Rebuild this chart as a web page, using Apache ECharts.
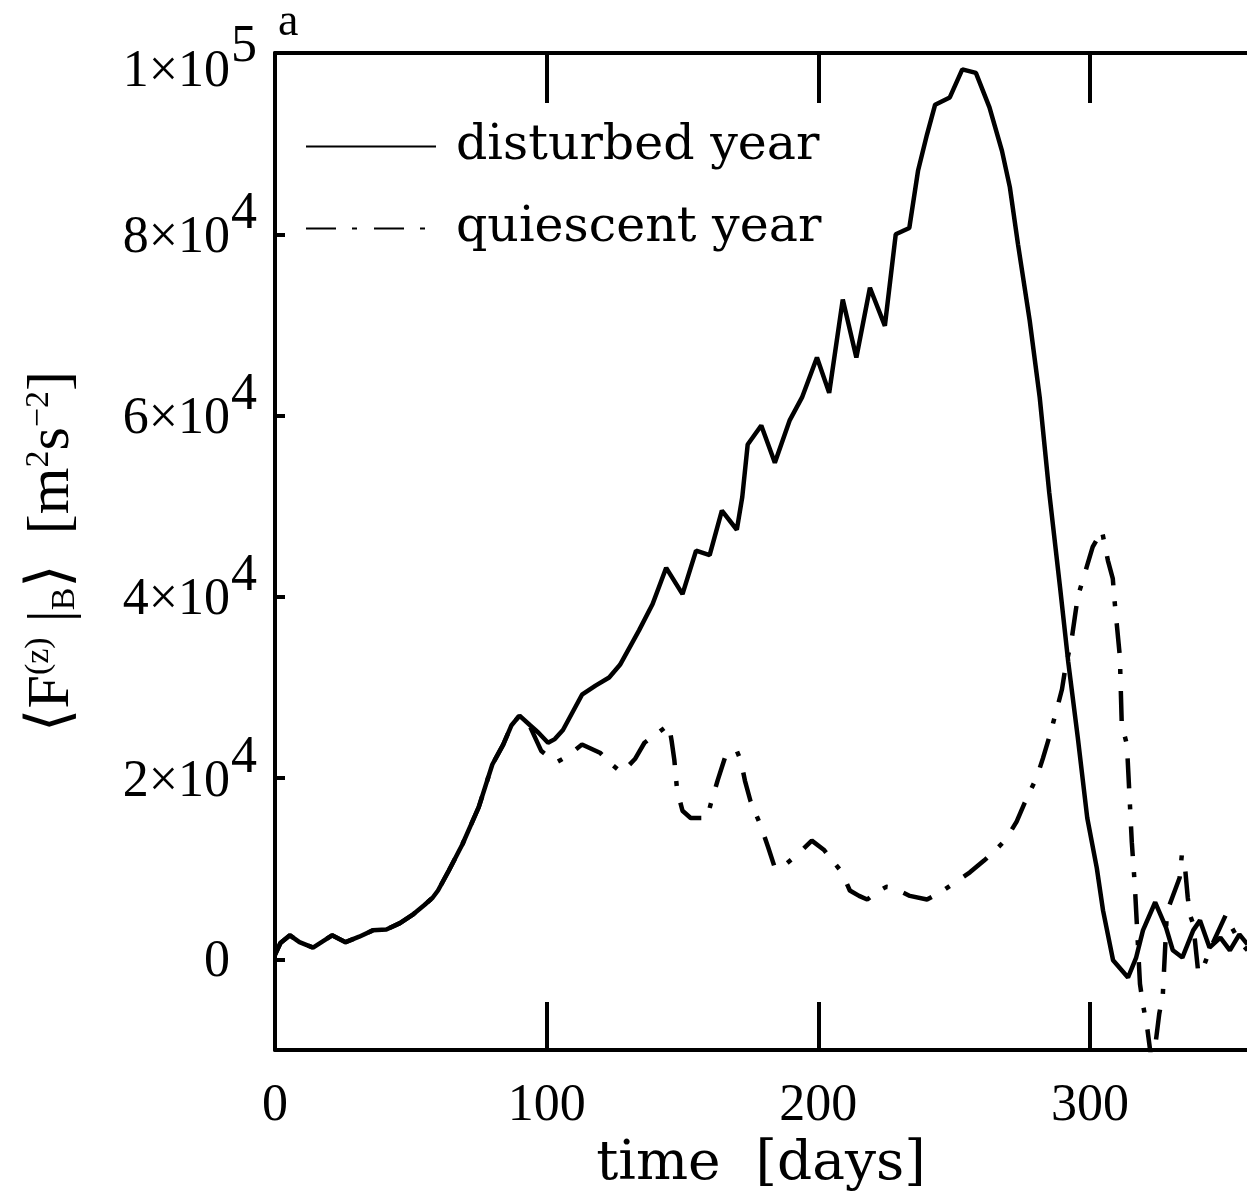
<!DOCTYPE html>
<html>
<head>
<meta charset="utf-8">
<script src="https://cdn.jsdelivr.net/npm/echarts@6/dist/echarts.min.js"></script>
<style>
html,body{margin:0;padding:0;background:#fff;}
#chart{width:1247px;height:1200px;}
</style>
</head>
<body>
<div id="chart"></div>
<script>
// ---- data ----
const disturbedDay = [0, 2, 5.5, 9, 14, 21, 26, 31, 36, 41, 46, 51, 55, 58, 60, 64, 69, 75, 80, 84, 87, 90, 94, 97, 100.5, 103, 106, 113, 118, 123, 127, 134, 139, 144, 150, 155, 160, 164.5, 170, 172, 174, 179, 184, 189.5, 194, 199.5, 204, 209, 214, 219, 224.5, 228.5, 233.5, 236.7, 240, 243, 248.4, 253, 258, 263, 267.6, 270.5, 273.5, 277.8, 281.5, 285, 289, 292, 295.5, 299, 302.5, 304.8, 308.5, 314, 317, 319.5, 324, 328, 330.5, 334, 338, 340.5, 344, 348, 351.5, 355, 358];
const disturbedValue = [500, 1800, 2650, 1900, 1300, 2650, 1900, 2500, 3200, 3300, 4000, 5000, 6000, 6800, 7600, 9800, 12700, 16800, 21500, 23700, 25800, 26900, 25800, 25000, 23900, 24300, 25300, 29200, 30200, 31100, 32500, 36300, 39200, 43200, 40300, 45100, 44600, 49500, 47400, 51000, 56800, 58900, 54800, 59500, 62000, 66400, 62500, 72800, 66400, 74100, 69900, 80000, 80700, 87000, 91000, 94300, 95100, 98200, 97800, 94000, 89200, 85200, 78900, 70500, 62000, 51500, 41000, 32800, 24500, 15600, 10100, 5400, -100, -2000, 200, 3200, 6300, 3500, 1000, 200, 3200, 4300, 1300, 2400, 1000, 2750, 1650];

const quiescentDay = [0, 2, 5.5, 9, 14, 21, 26, 31, 36, 41, 46, 51, 55, 58, 60, 64, 69, 75, 80, 84, 87, 90, 94, 98, 101, 104, 107, 113, 119.6, 124, 127.7, 132.5, 136, 141, 145, 146, 147, 148, 150, 153, 159, 161, 163, 166, 170, 171.5, 173, 175, 179, 181.5, 184, 188, 192.5, 197.6, 202, 205.5, 208.7, 211.6, 215, 218, 222, 225, 227.5, 233.7, 240, 245, 249.5, 255.8, 261, 265, 269, 273, 276, 280.4, 282.7, 285, 287.8, 289.7, 290.8, 293.3, 294.4, 295.5, 298.8, 301, 304.4, 306.6, 308.4, 309, 311, 311.7, 313.6, 315.4, 316.5, 318.4, 319.5, 321, 323, 325.5, 326.8, 328.3, 329.4, 333, 333.8, 335, 336, 336.8, 338, 339.7, 341, 344, 350, 351.5, 355, 358];
const quiescentValue = [500, 1800, 2650, 1900, 1300, 2650, 1900, 2500, 3200, 3300, 4000, 5000, 6000, 6800, 7600, 9800, 12700, 16800, 21500, 23700, 25800, 26900, 25600, 23000, 22300, 21800, 22300, 23700, 22800, 21500, 20600, 22100, 23900, 25000, 25900, 24100, 22000, 18700, 16400, 15600, 15600, 17800, 19800, 22600, 23000, 21900, 19700, 17500, 14600, 12400, 10100, 10500, 11600, 13100, 12100, 10800, 9600, 7600, 7000, 6600, 7500, 8000, 7900, 7000, 6600, 7400, 8300, 9600, 10900, 12000, 13200, 15200, 17300, 20100, 22200, 24500, 27600, 29800, 31900, 35400, 37700, 40000, 43300, 45500, 47300, 44000, 42000, 39700, 33400, 25900, 23700, 12900, 8200, -2700, -5000, -7400, -12000, -6000, -4000, 5100, 6100, 9000, 11500, 10100, 6800, 4900, 3900, -1000, -1500, 1000, 4900, 3900, 2000, 1000];

const seriesNames = ['disturbed year', 'quiescent year'];
const xTickValues = [0, 100, 200, 300];
const xTickLabels = ['0', '100', '200', '300'];
const yTickValues = [0, 20000, 40000, 60000, 80000, 100000];
const yTickBase = ['0', '2×10', '4×10', '6×10', '8×10', '1×10'];
const yTickExp = ['', '4', '4', '4', '4', '5'];
const panelLabel = 'a';
const xAxisTitle = 'time  [days]';

function pairs(xs, ys) { return xs.map((x, i) => [x, ys[i]]); }

const NUMFONT = 'Liberation Serif';
const TXTFONT = 'DejaVu Serif';
const YMIN = -10000, YMAX = 100000, XMAX = 357.8;

const chart = echarts.init(document.getElementById('chart'), null, {renderer: 'canvas'});
chart.setOption({
  animation: false,
  backgroundColor: '#ffffff',
  grid: {left: 275, right: 0, top: 53, bottom: 150, containLabel: false, outerBoundsMode: 'none'},
  graphic: [{
    type: 'text', left: 278, top: 0,
    style: {text: panelLabel, font: '46px "Liberation Serif"', fill: '#000'}
  }],
  legend: {
    orient: 'vertical', left: 300, top: 117,
    itemWidth: 130, itemHeight: 40, itemGap: 33,
    data: seriesNames,
    itemStyle: {opacity: 0},
    textStyle: {fontFamily: TXTFONT, fontSize: 49, color: '#000', padding: [0, 0, 0, 15]},
    inactiveColor: '#000'
  },
  xAxis: [{
    type: 'value', position: 'bottom', min: 0, max: XMAX,
    name: xAxisTitle, nameLocation: 'middle', nameGap: 84,
    nameTextStyle: {fontFamily: TXTFONT, fontSize: 55, color: '#000'},
    axisLine: {show: true, onZero: false, lineStyle: {color: '#000', width: 4}},
    axisTick: {show: true, inside: true, length: 48, lineStyle: {color: '#000', width: 4}, customValues: xTickValues},
    axisLabel: {show: true, margin: 30, fontFamily: NUMFONT, fontSize: 52, color: '#000',
      customValues: xTickValues,
      formatter: v => xTickLabels[xTickValues.indexOf(v)]},
    splitLine: {show: false}
  }, {
    type: 'value', position: 'top', min: 0, max: XMAX,
    axisLine: {show: true, onZero: false, lineStyle: {color: '#000', width: 4}},
    axisTick: {show: true, inside: true, length: 50, lineStyle: {color: '#000', width: 4}, customValues: xTickValues},
    axisLabel: {show: false},
    splitLine: {show: false}
  }],
  yAxis: [{
    type: 'value', position: 'left', min: YMIN, max: YMAX,
    name: '{n|⟨F}{sp|(z)}{n| |}{sb|B}{n|⟩  [m}{sp|2}{n|s}{sp|−2}{n|]}',
    nameLocation: 'middle', nameRotate: 90, nameGap: 193,
    nameTextStyle: {
      color: '#000',
      rich: {
        n: {fontFamily: 'Liberation Serif, DejaVu Serif', fontSize: 60, lineHeight: 60, color: '#000'},
        sp: {fontFamily: 'Liberation Serif, DejaVu Serif', fontSize: 34, lineHeight: 34, color: '#000', verticalAlign: 'top'},
        sb: {fontFamily: 'Liberation Serif, DejaVu Serif', fontSize: 34, lineHeight: 34, color: '#000', verticalAlign: 'bottom'}
      }
    },
    axisLine: {show: true, onZero: false, lineStyle: {color: '#000', width: 4}},
    axisTick: {show: true, inside: true, length: 10, lineStyle: {color: '#000', width: 4}, customValues: yTickValues.slice(0, 5)},
    axisLabel: {
      show: true, margin: 45, color: '#000',
      customValues: yTickValues,
      formatter: function (v) {
        const i = yTickValues.indexOf(v);
        if (i < 0) return '';
        if (v === 0) return '{z|' + yTickBase[i] + '}';
        if (v === YMAX) return '{bt|' + yTickBase[i] + '}';
        return '{b|' + yTickBase[i] + '}';
      },
      rich: {
        z: {fontFamily: NUMFONT, fontSize: 52, lineHeight: 50, padding: [6, 0, 0, 0], color: '#000'},
        b: {fontFamily: NUMFONT, fontSize: 52, lineHeight: 50, padding: [8, 0, 0, 0], color: '#000'},
        bt: {fontFamily: NUMFONT, fontSize: 52, lineHeight: 50, padding: [38, 0, 0, 0], color: '#000'}
      }
    },
    splitLine: {show: false}
  }, {
    type: 'value', position: 'left', min: YMIN, max: YMAX,
    axisLine: {show: false, onZero: false}, axisTick: {show: false}, splitLine: {show: false},
    axisLabel: {
      show: true, margin: 18, color: '#000',
      customValues: yTickValues,
      formatter: function (v) {
        const i = yTickValues.indexOf(v);
        if (i < 0 || !yTickExp[i]) return '';
        if (v === YMAX) return '{et|' + yTickExp[i] + '}';
        return '{e|' + yTickExp[i] + '}';
      },
      rich: {
        e: {fontFamily: NUMFONT, fontSize: 52, lineHeight: 50, padding: [0, 0, 40, 0], color: '#000'},
        et: {fontFamily: NUMFONT, fontSize: 52, lineHeight: 50, padding: [0, 0, 12, 0], color: '#000'}
      }
    }
  }],
  series: [{
    name: seriesNames[0], type: 'line', xAxisIndex: 0, yAxisIndex: 0,
    data: pairs(disturbedDay, disturbedValue),
    symbol: 'none', showSymbol: false, clip: true,
    lineStyle: {color: '#000', width: 4.5, type: 'solid'},
    itemStyle: {color: '#000'}
  }, {
    name: seriesNames[1], type: 'line', xAxisIndex: 0, yAxisIndex: 0,
    data: pairs(quiescentDay, quiescentValue),
    symbol: 'none', showSymbol: false, clip: true,
    lineStyle: {color: '#000', width: 4.5, type: [30, 16, 5, 17]},
    itemStyle: {color: '#000'}
  }]
});
</script>
</body>
</html>
